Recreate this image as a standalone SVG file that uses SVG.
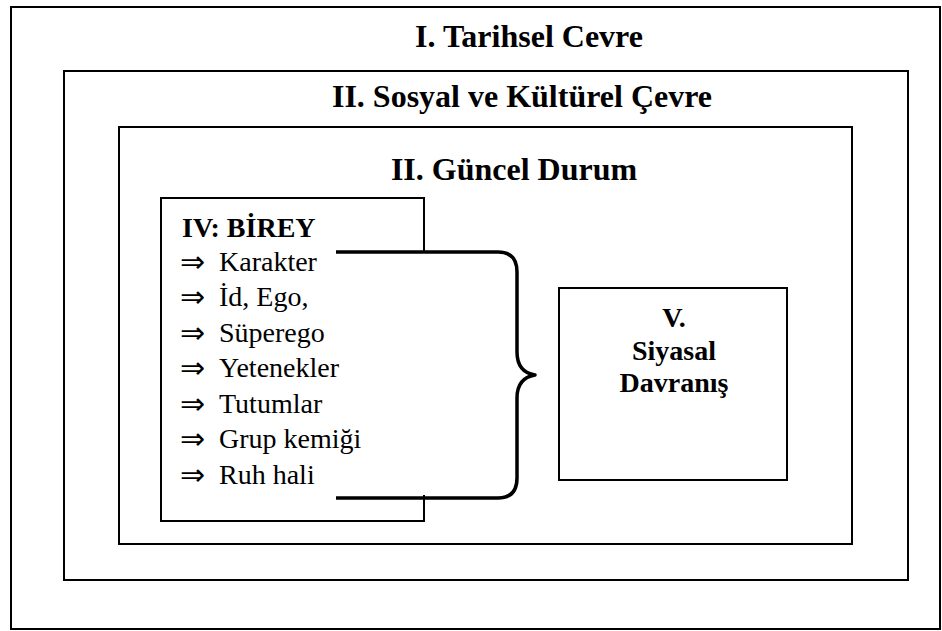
<svg xmlns="http://www.w3.org/2000/svg" width="942" height="631" viewBox="0 0 942 631">
  <style>
    .frame { fill: none; stroke: #000; stroke-width: 2; }
    .brace { fill: none; stroke: #000; stroke-width: 3.5; stroke-linejoin: round; }
    .serif { font-family: "Liberation Serif", "Times New Roman", "DejaVu Serif", serif; fill: #000; }
    .title { font-weight: bold; font-size: 32px; }
    .label { font-weight: bold; font-size: 28px; }
    .item { font-size: 28px; }
    .arrow { font-family: "DejaVu Sans", sans-serif; font-size: 30px; fill: #000; }
  </style>
  <rect width="942" height="631" fill="#fff"/>

  <g id="tarihsel-cevre">
    <rect class="frame" x="11" y="7" width="929" height="622"/>
    <text class="serif title" x="529" y="47" text-anchor="middle">I. Tarihsel Cevre</text>
  </g>

  <g id="sosyal-kulturel-cevre">
    <rect class="frame" x="64" y="71" width="844" height="509"/>
    <text class="serif title" x="522" y="107" text-anchor="middle">II. Sosyal ve Kültürel Çevre</text>
  </g>

  <g id="guncel-durum">
    <rect class="frame" x="119" y="127" width="733" height="417"/>
    <text class="serif title" x="514" y="180" text-anchor="middle">II. Güncel Durum</text>
  </g>

  <g id="birey">
    <path class="frame" d="M424,253 V198 H161 V521 H424 V495"/>
    <text class="serif label" x="182" y="237">IV: BİREY</text>
    <g class="arrow">
      <text x="180" y="272">⇒</text>
      <text x="180" y="307">⇒</text>
      <text x="180" y="343">⇒</text>
      <text x="180" y="378">⇒</text>
      <text x="180" y="414">⇒</text>
      <text x="180" y="449">⇒</text>
      <text x="180" y="485">⇒</text>
    </g>
    <g class="serif item">
      <text x="219" y="271">Karakter</text>
      <text x="219" y="306">İd, Ego,</text>
      <text x="219" y="342">Süperego</text>
      <text x="219" y="377">Yetenekler</text>
      <text x="219" y="413">Tutumlar</text>
      <text x="219" y="448">Grup kemiği</text>
      <text x="219" y="484">Ruh hali</text>
    </g>
  </g>

  <g id="siyasal-davranis">
    <rect class="frame" x="559" y="288" width="228" height="192"/>
    <g class="serif label" text-anchor="middle">
      <text x="674" y="327">V.</text>
      <text x="674" y="360">Siyasal</text>
      <text x="674" y="392">Davranış</text>
    </g>
  </g>

  <g id="connectors">
    <!-- curly brace gathering the individual traits toward political behaviour -->
    <path class="brace" d="M336,252 H498 Q517,252 517,272 V352 Q517,372 535,375 Q517,378 517,398 V478 Q517,498 498,498 H336"/>
  </g>
</svg>
